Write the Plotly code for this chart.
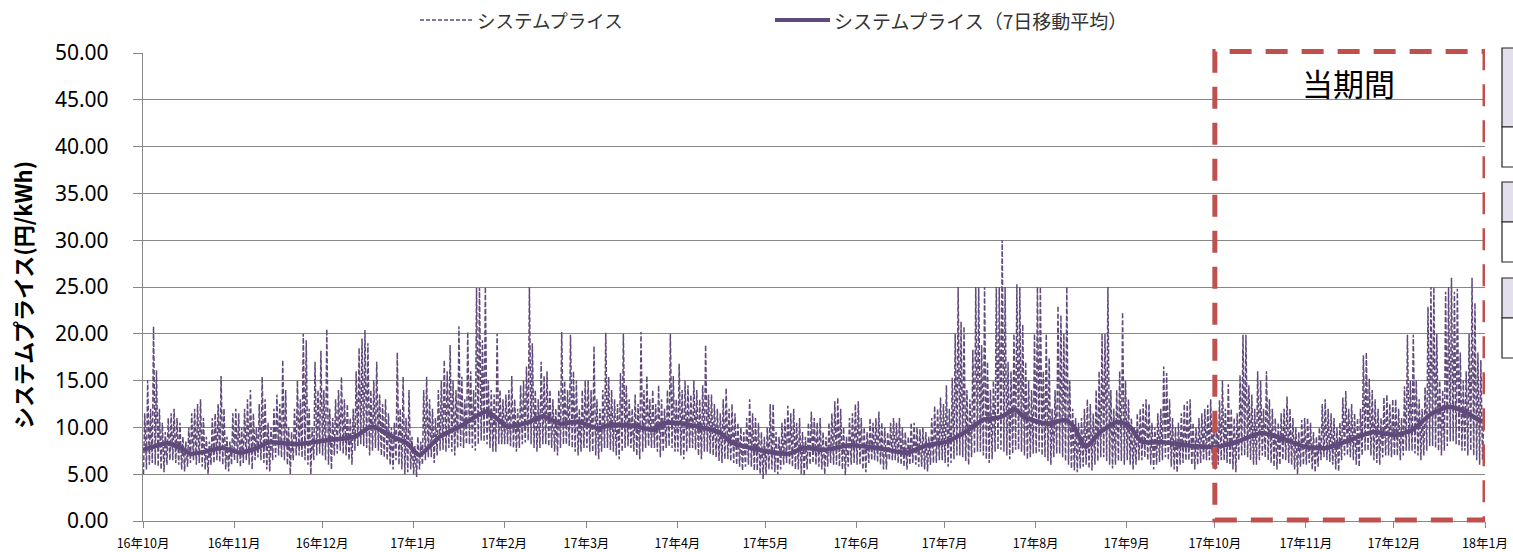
import pandas as pd
import plotly.graph_objects as go

# ---------------- data ----------------
month_starts = ["2016-10-01", "2016-11-01", "2016-12-01", "2017-01-01", "2017-02-01",
                "2017-03-01", "2017-04-01", "2017-05-01", "2017-06-01", "2017-07-01",
                "2017-08-01", "2017-09-01", "2017-10-01", "2017-11-01", "2017-12-01"]

# daily peak (daytime) system price, 円/kWh
hi_2016_10 = [11.5, 15, 12, 20.8, 16.1, 12, 10.5, 9.5, 11, 11.5,
              12, 11, 10.5, 9, 8.5, 10, 11.5, 12, 12.5, 13,
              11, 9, 8.5, 11, 11.5, 12.5, 15.5, 12, 9, 8.5, 11.5]
hi_2016_11 = [12, 11.5, 10, 12, 13, 14, 11.5, 10, 12.5, 15.4,
              13, 10.5, 10, 12, 13.5, 12.5, 17.2, 14, 10, 9.5,
              12, 15, 13, 20, 19.3, 12, 10, 17, 14, 18.2]
hi_2016_12 = [14, 20.5, 12, 11, 13, 14, 15.4, 13, 12.5, 11,
              12, 16, 18.5, 19.5, 20.4, 19, 14, 15, 17, 13.5,
              12.5, 13, 11.5, 10, 10.5, 18, 12, 15.4, 11, 14, 9]
hi_2017_01 = [8, 9, 8.5, 14, 15.4, 13, 12, 11, 14, 15,
              17.2, 16, 18.8, 15, 14, 20.8, 15.4, 13, 20.2, 16,
              14, 24.9, 24.9, 19.3, 25, 15, 14, 13.5, 20, 14, 13]
hi_2017_02 = [13.5, 14, 15.5, 13, 12, 14.5, 15, 16.5, 25, 19,
              14, 13, 17, 15.5, 16, 14, 13, 12, 14, 20.2,
              15, 14, 19.9, 16, 15, 12, 14, 15]
hi_2017_03 = [15, 14, 18.7, 13, 12, 14, 20.1, 15.4, 14, 13,
              12.5, 15.8, 20, 14.5, 13, 12, 13.5, 12.5, 20.2, 14,
              15.5, 13, 14, 12.5, 14.5, 13, 12, 14, 20, 15.5, 13]
hi_2017_04 = [16.8, 14, 15, 14.5, 13.5, 15, 14, 13, 14.5, 18.8,
              13.5, 13.5, 12.5, 12, 11.5, 13, 14.2, 12, 12.5, 11.5,
              10.5, 10, 9.5, 11, 13, 11.5, 11, 10.5, 9.5, 9]
hi_2017_05 = [10, 12.5, 12.5, 9.5, 9, 10.5, 11, 12.3, 11.5, 12,
              10.5, 11, 9.5, 9, 10.5, 11.7, 11, 10.5, 11, 9.5,
              9, 10.5, 11.5, 12.8, 13.2, 12, 10, 9, 11, 11.5, 12.5]
hi_2017_06 = [12.8, 11, 10, 9.5, 11, 10.5, 11, 11.7, 10.5, 10,
              9.5, 10.5, 11, 10.5, 11, 10, 9.5, 9, 10.5, 10.5,
              10, 9.8, 10, 9.5, 9, 11, 12.3, 12, 13.2, 12.5]
hi_2017_07 = [14.5, 12, 15.3, 20, 25, 21.3, 20.8, 14, 13, 18.3,
              25, 25, 18.8, 25, 17, 14, 15, 25, 25, 30,
              25, 17, 16, 20, 25.3, 25, 21, 17, 15, 14, 20]
hi_2017_08 = [25, 25, 16, 20, 17.4, 12, 14, 23, 22, 20,
              25, 15, 12, 11, 10.5, 11, 12, 13, 12.5, 11.5,
              14, 16, 20, 20, 25, 14, 12, 14, 16, 22.3, 15]
hi_2017_09 = [13, 11, 10, 11.5, 12, 12.5, 13, 12.5, 10.5, 10,
              11.5, 12, 16.5, 15.8, 13, 11, 10, 10.5, 11.5, 12.5,
              12.8, 13, 10.5, 10, 11, 11.5, 12, 12.4, 13, 11]
hi_2017_10 = [11, 12.9, 15, 12, 14.6, 12, 11, 11.5, 15.6, 19.9,
              19.9, 14.5, 13.5, 12, 16, 15, 12, 16, 13, 12,
              11, 10.5, 11.5, 12, 13.3, 12, 11, 10, 9.5, 10.8, 11]
hi_2017_11 = [11, 10.5, 9.5, 9, 10, 12.5, 13, 12, 11.5, 11,
              10, 10.5, 13.2, 13.9, 12, 12.5, 11.5, 11, 12, 17.7,
              18, 15.2, 14, 13, 12, 11, 13.2, 13.5, 12.5, 13]
hi_2017_12 = [13, 12, 11, 14.4, 19.9, 15, 19.9, 15, 13, 12,
              14.3, 22.9, 25, 25, 20, 15, 14, 24.5, 25, 26,
              24.5, 24.8, 18, 15, 16, 20, 26, 23.3, 18, 17.2, 11]

# daily trough (night) system price, 円/kWh
lo_2016_10 = [5.0, 5.5, 6.0, 6.2, 6.0, 5.8, 5.5, 5.2, 6.0, 6.5,
              6.5, 6.2, 6.0, 5.5, 5.3, 5.8, 6.2, 6.5, 6.0, 6.2,
              5.8, 5.5, 5.0, 6.0, 6.2, 6.5, 6.3, 6.0, 5.5, 5.3, 6.0]
lo_2016_11 = [6.5, 6.2, 5.8, 6.2, 6.5, 6.0, 5.5, 6.5, 6.8, 6.5,
              6.2, 5.5, 5.3, 6.5, 6.8, 7.0, 6.8, 6.5, 6.0, 5.0,
              6.5, 7.0, 7.0, 6.8, 6.5, 6.0, 5.0, 6.5, 7.0, 7.2]
lo_2016_12 = [7.0, 6.5, 6.0, 5.5, 7.0, 7.2, 7.5, 7.2, 7.0, 6.5,
              6.0, 7.5, 8.0, 8.2, 8.0, 7.8, 7.0, 7.5, 7.8, 7.5,
              7.0, 6.8, 6.5, 6.0, 5.5, 6.5, 6.0, 5.5, 5.0, 5.2, 5.5]
lo_2017_01 = [5.0, 4.7, 5.5, 6.0, 6.5, 6.8, 6.8, 6.2, 7.0, 7.5,
              7.6, 7.4, 7.8, 7.4, 7.0, 7.8, 8.0, 7.8, 8.2, 8.2,
              7.8, 7.5, 8.2, 8.6, 8.5, 8.2, 7.8, 7.4, 7.4, 8.2, 8.2]
lo_2017_02 = [8.2, 8.2, 8.0, 7.8, 7.4, 7.8, 8.2, 8.4, 8.6, 8.2,
              7.8, 7.4, 7.8, 8.2, 8.2, 8.0, 7.8, 7.4, 7.0, 7.8,
              8.2, 8.2, 8.0, 7.8, 7.4, 7.0, 7.4, 7.8]
lo_2017_03 = [7.8, 7.4, 7.4, 7.0, 6.6, 7.4, 7.8, 7.8, 7.6, 7.4,
              7.0, 6.6, 7.4, 7.8, 8.0, 7.8, 7.4, 7.0, 6.6, 7.4,
              7.8, 8.0, 7.8, 7.8, 7.4, 6.8, 7.4, 7.8, 8.0, 7.8, 7.4]
lo_2017_04 = [7.4, 7.0, 6.6, 7.4, 7.8, 7.8, 7.6, 7.0, 6.6, 7.4,
              7.4, 7.2, 7.0, 6.8, 6.4, 6.2, 6.6, 6.6, 6.4, 6.2,
              6.0, 5.8, 5.4, 5.8, 6.0, 5.8, 5.4, 5.4, 5.0, 4.5]
lo_2017_05 = [5.0, 5.5, 5.5, 5.2, 5.0, 5.5, 6.0, 6.2, 6.0, 5.8,
              5.5, 5.5, 5.0, 4.8, 5.5, 6.0, 6.2, 6.0, 5.8, 5.5,
              5.0, 5.8, 6.2, 6.0, 6.0, 5.8, 5.5, 4.9, 5.8, 6.0, 6.2]
lo_2017_06 = [6.0, 6.0, 5.5, 5.2, 6.2, 6.5, 6.5, 6.3, 6.0, 5.5,
              5.5, 6.5, 6.5, 6.5, 6.2, 6.0, 5.8, 5.5, 6.0, 6.2,
              6.0, 5.8, 5.8, 5.5, 5.3, 6.0, 6.2, 6.2, 6.5, 6.5]
lo_2017_07 = [6.2, 5.8, 6.2, 6.6, 7.0, 7.0, 6.8, 6.4, 6.0, 6.8,
              7.2, 7.4, 7.4, 7.0, 6.6, 6.2, 6.6, 7.4, 7.6, 7.6,
              7.4, 7.0, 6.6, 7.2, 7.6, 7.6, 7.4, 7.0, 6.6, 6.8, 7.2]
lo_2017_08 = [7.2, 7.4, 7.0, 6.8, 6.4, 6.0, 6.8, 7.2, 7.2, 6.8,
              6.4, 6.0, 5.6, 5.4, 5.2, 5.6, 5.8, 6.0, 5.6, 5.4,
              6.0, 6.4, 6.8, 6.8, 6.4, 6.0, 5.6, 6.0, 6.4, 6.4, 6.0]
lo_2017_09 = [6.5, 6.0, 5.5, 6.0, 6.5, 6.5, 6.8, 6.5, 6.0, 5.5,
              6.0, 6.3, 6.5, 6.8, 6.5, 5.8, 5.5, 5.2, 6.0, 6.2,
              6.5, 6.5, 6.0, 5.5, 6.0, 6.2, 6.5, 6.5, 6.5, 6.0]
lo_2017_10 = [5.5, 6.0, 6.5, 6.5, 6.2, 6.0, 5.5, 5.2, 6.5, 7.0,
              7.0, 6.8, 6.5, 6.0, 6.0, 6.5, 7.0, 6.8, 6.5, 6.2,
              5.8, 5.5, 6.0, 6.5, 6.5, 6.2, 6.0, 5.5, 5.0, 5.8, 6.0]
lo_2017_11 = [6.0, 6.2, 5.5, 5.2, 5.8, 6.5, 6.8, 6.5, 6.3, 6.0,
              5.5, 5.3, 6.5, 7.0, 7.0, 6.8, 6.5, 6.0, 5.8, 7.0,
              7.5, 7.5, 7.0, 6.5, 6.2, 6.0, 6.8, 7.0, 7.0, 6.8]
lo_2017_12 = [7.0, 7.0, 6.5, 7.0, 7.5, 7.5, 7.5, 7.2, 7.0, 6.5,
              7.0, 7.5, 8.0, 8.0, 7.8, 7.5, 7.0, 7.5, 8.0, 8.5,
              8.5, 8.2, 8.0, 7.5, 7.5, 7.0, 7.5, 7.0, 6.5, 6.0, 6.5]

hi_months = [hi_2016_10, hi_2016_11, hi_2016_12, hi_2017_01, hi_2017_02, hi_2017_03,
             hi_2017_04, hi_2017_05, hi_2017_06, hi_2017_07, hi_2017_08, hi_2017_09,
             hi_2017_10, hi_2017_11, hi_2017_12]
lo_months = [lo_2016_10, lo_2016_11, lo_2016_12, lo_2017_01, lo_2017_02, lo_2017_03,
             lo_2017_04, lo_2017_05, lo_2017_06, lo_2017_07, lo_2017_08, lo_2017_09,
             lo_2017_10, lo_2017_11, lo_2017_12]

# 7-day moving average (read at these dates)
ma_dates = ["2016-10-01", "2016-10-04", "2016-10-09", "2016-10-14", "2016-10-17", "2016-10-22",
            "2016-10-28", "2016-11-03", "2016-11-08", "2016-11-13", "2016-11-22", "2016-12-03",
            "2016-12-12", "2016-12-18", "2016-12-25", "2016-12-30", "2017-01-03", "2017-01-10",
            "2017-01-17", "2017-01-26", "2017-02-02", "2017-02-09", "2017-02-14", "2017-02-20",
            "2017-02-26", "2017-03-05", "2017-03-09", "2017-03-17", "2017-03-24", "2017-03-27",
            "2017-04-01", "2017-04-09", "2017-04-15", "2017-04-20", "2017-04-26", "2017-05-02",
            "2017-05-09", "2017-05-14", "2017-05-21", "2017-05-30", "2017-06-08", "2017-06-18",
            "2017-06-25", "2017-07-02", "2017-07-09", "2017-07-14", "2017-07-20", "2017-07-25",
            "2017-07-28", "2017-08-05", "2017-08-11", "2017-08-14", "2017-08-18", "2017-08-23",
            "2017-08-29", "2017-09-02", "2017-09-06", "2017-09-14", "2017-09-21", "2017-10-01",
            "2017-10-08", "2017-10-17", "2017-10-24", "2017-11-01", "2017-11-08", "2017-11-16",
            "2017-11-24", "2017-12-01", "2017-12-07", "2017-12-14", "2017-12-20", "2017-12-26",
            "2017-12-31"]
ma_values = [7.6, 7.9, 8.3, 7.8, 7.2, 7.4,
             7.8, 7.3, 7.7, 8.4, 8.2, 8.65,
             9.0, 10.1, 9.0, 8.3, 7.05, 9.0,
             10.1, 11.7, 10.1, 10.5, 11.2, 10.4,
             10.6, 9.9, 10.25, 10.2, 9.7, 10.4,
             10.5, 10.0, 9.5, 8.3, 7.8, 7.4,
             7.2, 7.8, 7.6, 8.1, 7.8, 7.3,
             8.1, 8.5, 9.7, 10.8, 11.1, 11.9,
             11.1, 10.4, 10.8, 10.1, 7.9, 9.5,
             10.6, 10.1, 8.5, 8.4, 8.1, 7.9,
             8.4, 9.4, 8.8, 7.9, 7.8, 8.65,
             9.5, 9.2, 9.7, 11.5, 12.2, 11.5,
             10.6]

tick_dates = ["2016-10-01", "2016-11-01", "2016-12-01", "2017-01-01", "2017-02-01", "2017-03-01",
              "2017-04-01", "2017-05-01", "2017-06-01", "2017-07-01", "2017-08-01", "2017-09-01",
              "2017-10-01", "2017-11-01", "2017-12-01", "2018-01-01"]
tick_labels = ["16年10月", "16年11月", "16年12月", "17年1月", "17年2月", "17年3月",
               "17年4月", "17年5月", "17年6月", "17年7月", "17年8月", "17年9月",
               "17年10月", "17年11月", "17年12月", "18年1月"]

series_names = ["システムプライス", "システムプライス（7日移動平均）"]
period_start, period_end = "2017-10-01", "2018-01-01"
period_label = "当期間"
y_title = "システムプライス(円/kWh)"

# ---------------- build the half-daily price path ----------------
px_x, px_y = [], []
for start, his, los in zip(month_starts, hi_months, lo_months):
    s = pd.Timestamp(start)
    for k, (lo, hi) in enumerate(zip(los, his)):
        day = s + pd.Timedelta(days=k)
        px_x.append(day + pd.Timedelta(hours=4))
        px_y.append(lo)
        px_x.append(day + pd.Timedelta(hours=14))
        px_y.append(hi)

PURPLE = "#604A7B"
GRID = "#878787"
RED = "#C0504D"
DASH = "5px,2px"

fig = go.Figure()
fig.add_trace(go.Scatter(x=px_x, y=px_y, mode="lines", name=series_names[0],
                         line=dict(color=PURPLE, width=1.5, dash=DASH),
                         showlegend=False, hoverinfo="skip"))
fig.add_trace(go.Scatter(x=pd.to_datetime(ma_dates), y=ma_values, mode="lines",
                         name=series_names[1],
                         line=dict(color=PURPLE, width=4.5, shape="spline", smoothing=0.6),
                         showlegend=False))

L, R, T, B = 143, 28, 53, 31
W, H = 1513, 552
pw, ph = W - L - R, H - T - B


def pxx(x):
    return (x - L) / pw


def pxy(y):
    return (H - B - y) / ph


shapes = []
# current period box
shapes.append(dict(type="rect", xref="x", yref="paper", x0=period_start, x1=period_end,
                   y0=0.002, y1=1.003, line=dict(color=RED, width=5, dash="22px,14px"),
                   fillcolor="rgba(0,0,0,0)", layer="above"))
# manual legend line samples
shapes.append(dict(type="line", xref="paper", yref="paper", x0=pxx(420), x1=pxx(472),
                   y0=pxy(20), y1=pxy(20), line=dict(color=PURPLE, width=1.6, dash="4px,2px")))
shapes.append(dict(type="line", xref="paper", yref="paper", x0=pxx(775), x1=pxx(830),
                   y0=pxy(20), y1=pxy(20), line=dict(color=PURPLE, width=4)))
# partially visible side boxes (cut off at the right edge)
for top, mid, bot in [(48, 127, 167), (182, 222, 262), (278, 318, 358)]:
    shapes.append(dict(type="rect", xref="paper", yref="paper", x0=pxx(1502), x1=pxx(1560),
                       y0=pxy(mid), y1=pxy(top), fillcolor="#E4DFEC",
                       line=dict(color="#222222", width=1.2)))
    shapes.append(dict(type="rect", xref="paper", yref="paper", x0=pxx(1502), x1=pxx(1560),
                       y0=pxy(bot), y1=pxy(mid), fillcolor="white",
                       line=dict(color="#222222", width=1.2)))

annotations = [
    dict(text=series_names[0], xref="paper", yref="paper", x=pxx(475), y=pxy(20),
         xanchor="left", yanchor="middle", showarrow=False,
         font=dict(family="Noto Sans CJK JP", size=18.5, color="#333333")),
    dict(text=series_names[1], xref="paper", yref="paper", x=pxx(832), y=pxy(20),
         xanchor="left", yanchor="middle", showarrow=False,
         font=dict(family="Noto Sans CJK JP", size=19, color="#333333")),
    dict(text=period_label, xref="paper", yref="paper", x=pxx(1348), y=pxy(82),
         xanchor="center", yanchor="middle", showarrow=False,
         font=dict(family="Noto Sans CJK JP", size=31, color="black")),
    dict(text="<b>" + y_title + "</b>", xref="paper", yref="paper", x=pxx(22), y=pxy(295),
         xanchor="center", yanchor="middle", showarrow=False, textangle=-90,
         font=dict(family="Noto Sans CJK JP", size=22, color="black")),
]

fig.update_layout(
    width=W, height=H, autosize=False,
    margin=dict(l=L, r=R, t=T, b=B, pad=0, autoexpand=False),
    paper_bgcolor="white", plot_bgcolor="white",
    showlegend=False,
    shapes=shapes, annotations=annotations,
    xaxis=dict(type="date", range=["2016-10-01", "2018-01-01"],
               tickmode="array", tickvals=tick_dates, ticktext=tick_labels,
               ticks="outside", ticklen=6, tickcolor=GRID, tickwidth=1.3,
               showline=True, linecolor=GRID, linewidth=1.3,
               showgrid=False, zeroline=False, automargin=False,
               ticklabelstandoff=5,
               tickfont=dict(family="Noto Sans CJK JP", size=12.5, color="black")),
    yaxis=dict(range=[0, 50], dtick=5, tick0=0, tickformat=".2f",
               ticks="outside", ticklen=9, tickcolor=GRID, tickwidth=1.3,
               showline=True, linecolor=GRID, linewidth=1.3,
               showgrid=True, gridcolor=GRID, gridwidth=1.3, zeroline=False,
               automargin=False, ticklabelstandoff=20,
               tickfont=dict(family="Noto Sans", size=21, color="black")),
)

fig.write_html("out.html",
               config={"responsive": False, "displayModeBar": False},
               post_script="document.body.style.margin='0';document.body.style.padding='0';"
                           "document.body.style.overflow='hidden';")
